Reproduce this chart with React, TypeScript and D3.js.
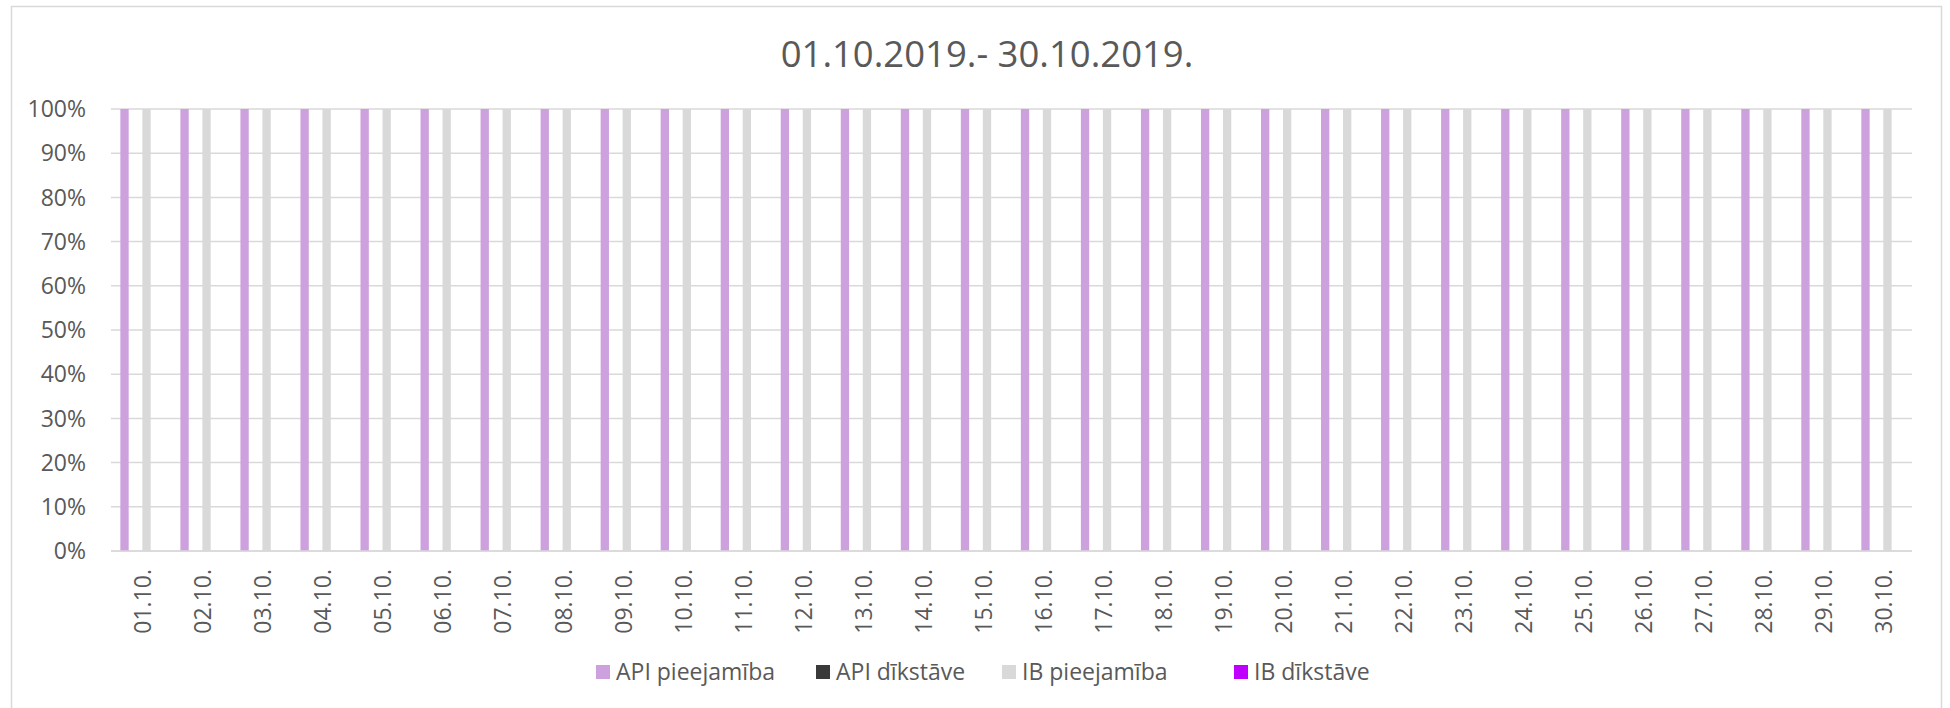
import React from "react";
import * as d3 from "d3";

const title = "01.10.2019.- 30.10.2019.";
const categories = ["01.10.","02.10.","03.10.","04.10.","05.10.","06.10.","07.10.","08.10.","09.10.","10.10.","11.10.","12.10.","13.10.","14.10.","15.10.","16.10.","17.10.","18.10.","19.10.","20.10.","21.10.","22.10.","23.10.","24.10.","25.10.","26.10.","27.10.","28.10.","29.10.","30.10."];
const seriesNames = ["API pieejamība", "API dīkstāve", "IB pieejamība", "IB dīkstāve"];
const seriesColors = ["#CDA0DE", "#3A3A3A", "#D9D9D9", "#BF00FF"];
const apiAvailability = [1,1,1,1,1,1,1,1,1,1,1,1,1,1,1,1,1,1,1,1,1,1,1,1,1,1,1,1,1,1];
const apiDowntime = [0,0,0,0,0,0,0,0,0,0,0,0,0,0,0,0,0,0,0,0,0,0,0,0,0,0,0,0,0,0];
const ibAvailability = [1,1,1,1,1,1,1,1,1,1,1,1,1,1,1,1,1,1,1,1,1,1,1,1,1,1,1,1,1,1];
const ibDowntime = [0,0,0,0,0,0,0,0,0,0,0,0,0,0,0,0,0,0,0,0,0,0,0,0,0,0,0,0,0,0];
const yTicks = [0,0.1,0.2,0.3,0.4,0.5,0.6,0.7,0.8,0.9,1];
const legendX = [596, 816, 1002, 1234];

const W = 1950, H = 708;
const font = "'Segoe UI', 'Open Sans', sans-serif";
const textColor = "#595959";

export default function App() {
  const seriesValues = [apiAvailability, apiDowntime, ibAvailability, ibDowntime];
  const x0 = d3.scaleBand<string>().domain(categories).range([111, 1912]).padding(0);
  const step = x0.bandwidth();
  const x1 = d3.scaleBand<string>().domain(seriesNames)
    .range([step / 2 - 22, step / 2 + 22]).paddingInner(0.245).paddingOuter(0.1225);
  const y = d3.scaleLinear().domain([0, 1]).range([551, 109]);
  const fmt = d3.format(".0%");

  return (
    <svg width={W} height={H} style={{ position: "absolute", left: 0, top: 0, background: "#fff" }} fontFamily={font}>
      <rect x={11.5} y={6.5} width={1930} height={710} fill="#fff" stroke="#D9D9D9" strokeWidth={1.5} />
      <text x={987} y={67} textAnchor="middle" fontSize={36.5} fill={textColor}>{title}</text>
      {yTicks.map((t) => (
        <g key={t}>
          <line x1={111} x2={1912} y1={y(t)} y2={y(t)} stroke="#D9D9D9" strokeWidth={1.5} />
          <text x={86} y={y(t)} dy="0.36em" textAnchor="end" fontSize={23} fill={textColor}>{fmt(t)}</text>
        </g>
      ))}
      {seriesNames.map((s, si) => (
        <g key={s} fill={seriesColors[si]}>
          {categories.map((c, ci) => {
            const v = seriesValues[si][ci];
            return (
              <rect key={c} x={(x0(c) ?? 0) + (x1(s) ?? 0)} y={y(v)} width={x1.bandwidth()} height={y(0) - y(v)} />
            );
          })}
        </g>
      ))}
      <line x1={111} x2={1912} y1={y(0)} y2={y(0)} stroke="#D9D9D9" strokeWidth={1.5} />
      {categories.map((c) => {
        const cx = (x0(c) ?? 0) + step / 2 + 2;
        return (
          <text key={c} transform={`translate(${cx},569) rotate(-90)`} dy="0.36em" textAnchor="end" fontSize={23} fill={textColor}>{c}</text>
        );
      })}
      {seriesNames.map((s, i) => (
        <g key={s} transform={`translate(${legendX[i]},672)`}>
          <rect x={0} y={-7} width={14} height={14} fill={seriesColors[i]} />
          <text x={20} y={0} dy="0.36em" fontSize={23} fill={textColor}>{s}</text>
        </g>
      ))}
    </svg>
  );
}
